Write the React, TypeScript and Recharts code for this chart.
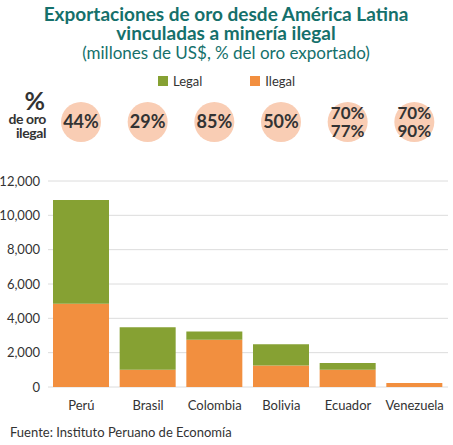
import {
  BarChart,
  Bar,
  XAxis,
  YAxis,
  CartesianGrid,
  Legend,
  LabelList,
} from "recharts";

const countries = ["Perú", "Brasil", "Colombia", "Bolivia", "Ecuador", "Venezuela"];
const ilegal = [4850, 1000, 2750, 1250, 1000, 230];
const legal = [6050, 2480, 480, 1240, 400, 0];
// share of illegal gold, one or two lines per country
const pctLabels = [["44%"], ["29%"], ["85%"], ["50%"], ["70%", "77%"], ["70%", "90%"]];
const yTicks = [0, 2000, 4000, 6000, 8000, 10000, 12000];

const data = countries.map((name, i) => ({
  name,
  ilegal: ilegal[i],
  legal: legal[i],
}));

const FONT = "Lato, 'Open Sans', sans-serif";
const TEAL = "#15706b";
const GREEN = "#86a133";
const ORANGE = "#f28f3f";
const PEACH = "#f9cdb4";
const TEXT = "#333333";

const fmt = (v: number) => v.toLocaleString("en-US");

const PctBubble = (props: any) => {
  const { x, width, index } = props;
  const cx = x + width / 2;
  const cy = 122;
  const lines = pctLabels[index];
  if (lines.length === 1) {
    return (
      <g>
        <circle cx={cx} cy={cy} r={20} fill={PEACH} />
        <text x={cx} y={cy + 6} textAnchor="middle" fontSize={18} fontWeight={700} fill={TEXT} fontFamily={FONT}>
          {lines[0]}
        </text>
      </g>
    );
  }
  return (
    <g>
      <circle cx={cx} cy={cy} r={20} fill={PEACH} />
      <text x={cx} y={cy - 3} textAnchor="middle" fontSize={17} fontWeight={700} fill={TEXT} fontFamily={FONT}>
        {lines[0]}
      </text>
      <text x={cx} y={cy + 15} textAnchor="middle" fontSize={17} fontWeight={700} fill={TEXT} fontFamily={FONT}>
        {lines[1]}
      </text>
    </g>
  );
};

const LegendItems = () => (
  <div style={{ display: "flex", justifyContent: "center", fontFamily: FONT, fontSize: 13, color: TEXT }}>
    <span style={{ display: "flex", alignItems: "center", marginRight: 48 }}>
      <span style={{ width: 10, height: 10, background: GREEN, marginRight: 5 }} />
      Legal
    </span>
    <span style={{ display: "flex", alignItems: "center" }}>
      <span style={{ width: 10, height: 10, background: ORANGE, marginRight: 5 }} />
      Ilegal
    </span>
  </div>
);

export default function App() {
  return (
    <div style={{ position: "absolute", left: 0, top: 0, width: 453, height: 445, background: "#fff" }}>
      <BarChart
        width={453}
        height={445}
        data={data}
        margin={{ top: 165, right: 5, left: 0, bottom: 28 }}
        barSize={56}
      >
        <text x={226} y={21} textAnchor="middle" fontSize={19} fontWeight={700} fill={TEAL} fontFamily={FONT}>
          Exportaciones de oro desde América Latina
        </text>
        <text x={226} y={40} textAnchor="middle" fontSize={19} fontWeight={700} fill={TEAL} fontFamily={FONT}>
          vinculadas a minería ilegal
        </text>
        <text x={226} y={59} textAnchor="middle" fontSize={17} fill={TEAL} fontFamily={FONT}>
          (millones de US$, % del oro exportado)
        </text>
        <text x={45} y={110} textAnchor="end" fontSize={25} fontWeight={700} fill={TEXT} fontFamily={FONT}>
          %
        </text>
        <text x={46} y={124} textAnchor="end" fontSize={14} fontWeight={700} letterSpacing={-0.4} fill={TEXT} fontFamily={FONT}>
          de oro
        </text>
        <text x={46} y={138} textAnchor="end" fontSize={14} fontWeight={700} letterSpacing={-0.4} fill={TEXT} fontFamily={FONT}>
          ilegal
        </text>
        <text x={10} y={437} fontSize={13} fill={TEXT} fontFamily={FONT}>
          Fuente: Instituto Peruano de Economía
        </text>
        <CartesianGrid vertical={false} stroke="#dcdcdc" />
        <XAxis
          dataKey="name"
          axisLine={false}
          tickLine={false}
          height={30}
          tick={{ fontSize: 13, fill: TEXT, fontFamily: FONT }}
          tickMargin={8}
        />
        <YAxis
          width={48}
          domain={[0, 12000]}
          ticks={yTicks}
          axisLine={false}
          tickLine={false}
          tickFormatter={fmt}
          tick={{ fontSize: 13, fill: TEXT, fontFamily: FONT }}
          tickMargin={2}
        />
        <Legend
          verticalAlign="top"
          content={<LegendItems />}
          wrapperStyle={{ position: "absolute", top: 73, left: 0, width: 453 }}
        />
        <Bar dataKey="ilegal" name="Ilegal" stackId="a" fill={ORANGE} isAnimationActive={false}>
          <LabelList dataKey="ilegal" content={<PctBubble />} />
        </Bar>
        <Bar dataKey="legal" name="Legal" stackId="a" fill={GREEN} isAnimationActive={false} />
      </BarChart>
    </div>
  );
}
